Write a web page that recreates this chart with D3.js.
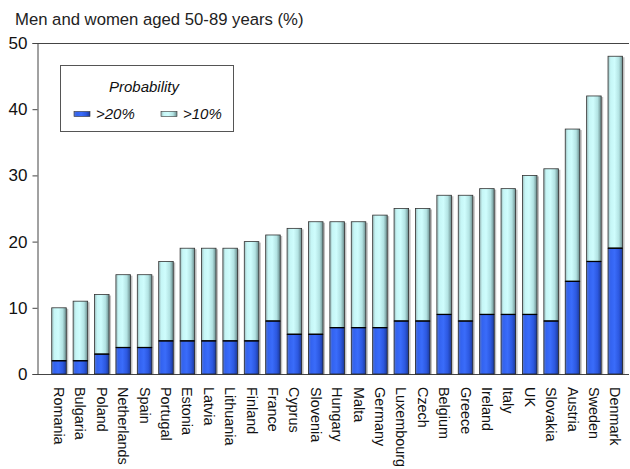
<!DOCTYPE html>
<html><head><meta charset="utf-8">
<script src="https://cdn.jsdelivr.net/npm/d3@7"></script>
<style>body{margin:0;background:#fff}svg{display:block}text{font-family:Arial,"Liberation Sans",sans-serif}</style>
</head><body><div id="chart"></div>
<script>
const countries = ["Romania","Bulgaria","Poland","Netherlands","Spain","Portugal","Estonia","Latvia","Lithuania","Finland","France","Cyprus","Slovenia","Hungary","Malta","Germany","Luxembourg","Czech","Belgium","Greece","Ireland","Italy","UK","Slovakia","Austria","Sweden","Denmark"];
const over10 = [10,11,12,15,15,17,19,19,19,20,21,22,23,23,23,24,25,25,27,27,28,28,30,31,37,42,48];
const over20 = [2,2,3,4,4,5,5,5,5,5,8,6,6,7,7,7,8,8,9,8,9,9,9,8,14,17,19];
const yTicks = [0,10,20,30,40,50];
const seriesNames = [">20%", ">10%"];

const W = 630, H = 469;
const svg = d3.select("#chart").append("svg").attr("width", W).attr("height", H);
const defs = svg.append("defs");
function grad(id, stops){
  const g = defs.append("linearGradient").attr("id", id).attr("x1","0%").attr("x2","100%").attr("y1","0%").attr("y2","0%");
  stops.forEach(s => g.append("stop").attr("offset", s[0]).attr("stop-color", s[1]));
}
grad("gCyan", [["0%","#9cbcbc"],["18%","#c6f6f6"],["45%","#cffdfd"],["75%","#b3e3e3"],["100%","#6a8c8c"]]);
grad("gBlue", [["0%","#5a78c8"],["18%","#3363f0"],["45%","#3a6cfa"],["75%","#2c58e0"],["100%","#1c3a9a"]]);

const x = d3.scaleBand().domain(countries).range([48.3, 626]).paddingInner(0.32).paddingOuter(0.16);
const y = d3.scaleLinear().domain([0, 50]).range([374, 43]);

// frame lines
svg.append("line").attr("x1", 38).attr("x2", 629).attr("y1", 43.5).attr("y2", 43.5).attr("stroke", "#444");
svg.append("line").attr("x1", 38).attr("x2", 629).attr("y1", 374.5).attr("y2", 374.5).attr("stroke", "#444");

// y axis
const yAxis = d3.axisLeft(y).tickValues(yTicks).tickSize(5).tickPadding(5);
const ya = svg.append("g").attr("transform", "translate(37.5,0)").call(yAxis);
ya.select(".domain").attr("stroke", "#444");
ya.selectAll(".tick line").attr("stroke", "#444");
ya.selectAll("text").attr("font-size", 17).attr("fill", "#111").attr("font-family", "Arial, 'Liberation Sans', sans-serif");

const data = countries.map((c, i) => ({c, t: over10[i], b: over20[i]}));
const bw = x.bandwidth();
const g = svg.append("g");
// shadows
g.selectAll("rect.sh").data(data).join("rect").attr("class","sh")
  .attr("x", d => x(d.c) + 2).attr("y", d => y(d.t) + 1).attr("width", bw).attr("height", d => y(0) - y(d.t) - 1)
  .attr("fill", "#999").attr("opacity", 0.6);
g.selectAll("rect.top").data(data).join("rect").attr("class","top")
  .attr("x", d => x(d.c)).attr("y", d => y(d.t)).attr("width", bw).attr("height", d => y(d.b) - y(d.t))
  .attr("fill", "url(#gCyan)").attr("stroke", "#333").attr("stroke-width", 0.8);
g.selectAll("rect.bot").data(data).join("rect").attr("class","bot")
  .attr("x", d => x(d.c)).attr("y", d => y(d.b)).attr("width", bw).attr("height", d => y(0) - y(d.b))
  .attr("fill", "url(#gBlue)").attr("stroke", "#222").attr("stroke-width", 0.8);
g.selectAll("line.sep").data(data).join("line").attr("class","sep")
  .attr("x1", d => x(d.c)).attr("x2", d => x(d.c) + bw).attr("y1", d => y(d.b)).attr("y2", d => y(d.b))
  .attr("stroke", "#000").attr("stroke-width", 1.3);

// x labels
svg.append("g").selectAll("text").data(countries).join("text")
  .attr("transform", d => `translate(${x(d) + bw/2},387) rotate(90)`)
  .attr("dominant-baseline", "central")
  .attr("font-size", 14.4).attr("fill", "#111")
  .text(d => d);

// title
svg.append("text").attr("x", 15).attr("y", 25).attr("font-size", 16.7).attr("fill", "#222")
  .text("Men and women aged 50-89 years (%)");

// legend
const lg = svg.append("g");
lg.append("rect").attr("x", 60.5).attr("y", 65.5).attr("width", 173).attr("height", 66).attr("fill", "#fff").attr("stroke", "#555");
lg.append("text").attr("x", 144).attr("y", 92).attr("text-anchor", "middle").attr("font-size", 15).attr("font-style", "italic").attr("fill", "#111").text("Probability");
const lx = [74, 161];
const lf = ["url(#gBlue)", "url(#gCyan)"];
seriesNames.forEach((n, i) => {
  lg.append("rect").attr("x", lx[i]).attr("y", 111.5).attr("width", 16).attr("height", 5).attr("fill", lf[i]).attr("stroke", "#333").attr("stroke-width", 0.6);
  lg.append("text").attr("x", lx[i] + 22).attr("y", 119).attr("font-size", 15).attr("font-style", "italic").attr("fill", "#111").text(n);
});
</script></body></html>
